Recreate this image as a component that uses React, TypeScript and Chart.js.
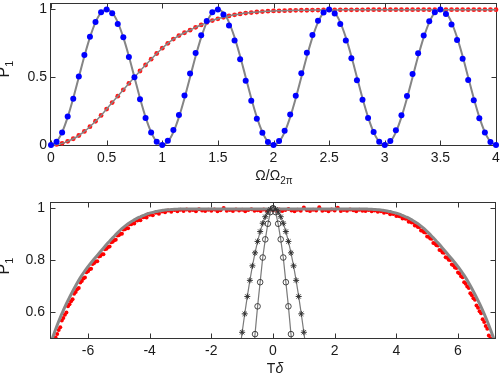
import React, { useEffect, useRef } from 'react';
import { Chart, registerables } from 'chart.js';

Chart.register(...registerables);

// ---------- top panel data ----------
const topX = [
  0, 0.05, 0.1, 0.15, 0.2, 0.25, 0.3, 0.35, 0.4, 0.45,
  0.5, 0.55, 0.6, 0.65, 0.7, 0.75, 0.8, 0.85, 0.9, 0.95,
  1, 1.05, 1.1, 1.15, 1.2, 1.25, 1.3, 1.35, 1.4, 1.45,
  1.5, 1.55, 1.6, 1.65, 1.7, 1.75, 1.8, 1.85, 1.9, 1.95,
  2, 2.05, 2.1, 2.15, 2.2, 2.25, 2.3, 2.35, 2.4, 2.45,
  2.5, 2.55, 2.6, 2.65, 2.7, 2.75, 2.8, 2.85, 2.9, 2.95,
  3, 3.05, 3.1, 3.15, 3.2, 3.25, 3.3, 3.35, 3.4, 3.45,
  3.5, 3.55, 3.6, 3.65, 3.7, 3.75, 3.8, 3.85, 3.9, 3.95,
  4,
];

const oscTheory = [
  0, 0.024, 0.095, 0.206, 0.345, 0.5, 0.655, 0.794, 0.905, 0.976,
  1, 0.976, 0.905, 0.794, 0.655, 0.5, 0.345, 0.206, 0.095, 0.024,
  0, 0.024, 0.095, 0.206, 0.345, 0.5, 0.655, 0.794, 0.905, 0.976,
  1, 0.976, 0.905, 0.794, 0.655, 0.5, 0.345, 0.206, 0.095, 0.024,
  0, 0.024, 0.095, 0.206, 0.345, 0.5, 0.655, 0.794, 0.905, 0.976,
  1, 0.976, 0.905, 0.794, 0.655, 0.5, 0.345, 0.206, 0.095, 0.024,
  0, 0.024, 0.095, 0.206, 0.345, 0.5, 0.655, 0.794, 0.905, 0.976,
  1, 0.976, 0.905, 0.794, 0.655, 0.5, 0.345, 0.206, 0.095, 0.024,
  0,
];

const blueDots = [
  0, 0.024, 0.092, 0.21, 0.342, 0.506, 0.663, 0.798, 0.908, 0.98,
  1, 0.971, 0.892, 0.795, 0.65, 0.499, 0.337, 0.2, 0.092, 0.024,
  0, 0.032, 0.11, 0.222, 0.366, 0.527, 0.679, 0.81, 0.914, 0.979,
  1, 0.962, 0.882, 0.77, 0.632, 0.474, 0.327, 0.194, 0.09, 0.022,
  0, 0.029, 0.106, 0.225, 0.364, 0.53, 0.68, 0.812, 0.916, 0.978,
  1, 0.97, 0.892, 0.771, 0.639, 0.477, 0.333, 0.2, 0.096, 0.024,
  0, 0.03, 0.108, 0.22, 0.362, 0.524, 0.676, 0.808, 0.912, 0.98,
  1, 0.966, 0.888, 0.775, 0.636, 0.48, 0.33, 0.197, 0.093, 0.023,
  0,
];

const redTop = [
  0, 0.004, 0.012, 0.027, 0.046, 0.07, 0.1, 0.135, 0.175, 0.218,
  0.265, 0.313, 0.36, 0.407, 0.454, 0.5, 0.546, 0.59, 0.633, 0.675,
  0.714, 0.75, 0.781, 0.807, 0.828, 0.847, 0.868, 0.886, 0.903, 0.918,
  0.931, 0.942, 0.952, 0.96, 0.967, 0.973, 0.977, 0.981, 0.984, 0.987,
  0.989, 0.99, 0.991, 0.992, 0.993, 0.994, 0.994, 0.995, 0.995, 0.996,
  0.996, 0.996, 0.997, 0.997, 0.997, 0.997, 0.997, 0.998, 0.998, 0.998,
  0.998, 0.998, 0.998, 0.998, 0.998, 0.998, 0.998, 0.998, 0.998, 0.998,
  0.998, 0.998, 0.998, 0.998, 0.998, 0.998, 0.998, 0.998, 0.998, 0.998,
  0.998,
];

const topXTicks = [0, 0.5, 1, 1.5, 2, 2.5, 3, 3.5, 4];
const topYTicks = [0, 0.5, 1];

// ---------- bottom panel data ----------
const botX = [
  -7.2, -7.1, -7, -6.9, -6.8, -6.7, -6.6, -6.5, -6.4, -6.3,
  -6.2, -6.1, -6, -5.9, -5.8, -5.7, -5.6, -5.5, -5.4, -5.3,
  -5.2, -5.1, -5, -4.9, -4.8, -4.7, -4.6, -4.5, -4.4, -4.3,
  -4.2, -4.1, -4, -3.9, -3.8, -3.7, -3.6, -3.5, -3.4, -3.3,
  -3.2, -3.1, -3, -2.9, -2.8, -2.7, -2.6, -2.5, -2.4, -2.3,
  -2.2, -2.1, -2, -1.9, -1.8, -1.7, -1.6, -1.5, -1.4, -1.3,
  -1.2, -1.1, -1, -0.9, -0.8, -0.7, -0.6, -0.5, -0.4, -0.3,
  -0.2, -0.1, 0, 0.1, 0.2, 0.3, 0.4, 0.5, 0.6, 0.7,
  0.8, 0.9, 1, 1.1, 1.2, 1.3, 1.4, 1.5, 1.6, 1.7,
  1.8, 1.9, 2, 2.1, 2.2, 2.3, 2.4, 2.5, 2.6, 2.7,
  2.8, 2.9, 3, 3.1, 3.2, 3.3, 3.4, 3.5, 3.6, 3.7,
  3.8, 3.9, 4, 4.1, 4.2, 4.3, 4.4, 4.5, 4.6, 4.7,
  4.8, 4.9, 5, 5.1, 5.2, 5.3, 5.4, 5.5, 5.6, 5.7,
  5.8, 5.9, 6, 6.1, 6.2, 6.3, 6.4, 6.5, 6.6, 6.7,
  6.8, 6.9, 7, 7.1, 7.2,
];

const wideTheory = [
  0.484, 0.517, 0.549, 0.579, 0.606, 0.632, 0.656, 0.679, 0.701, 0.722,
  0.741, 0.759, 0.775, 0.79, 0.804, 0.818, 0.832, 0.846, 0.86, 0.873,
  0.886, 0.898, 0.91, 0.921, 0.931, 0.94, 0.948, 0.955, 0.962, 0.967,
  0.972, 0.977, 0.981, 0.984, 0.987, 0.989, 0.991, 0.993, 0.994, 0.995,
  0.996, 0.996, 0.997, 0.997, 0.997, 0.997, 0.997, 0.997, 0.997, 0.997,
  0.997, 0.997, 0.997, 0.997, 0.997, 0.997, 0.997, 0.997, 0.997, 0.997,
  0.997, 0.997, 0.997, 0.997, 0.997, 0.997, 0.997, 0.997, 0.997, 0.997,
  0.997, 0.997, 0.997, 0.997, 0.997, 0.997, 0.997, 0.997, 0.997, 0.997,
  0.997, 0.997, 0.997, 0.997, 0.997, 0.997, 0.997, 0.997, 0.997, 0.997,
  0.997, 0.997, 0.997, 0.997, 0.997, 0.997, 0.997, 0.997, 0.997, 0.997,
  0.997, 0.997, 0.997, 0.996, 0.996, 0.995, 0.994, 0.993, 0.991, 0.989,
  0.987, 0.984, 0.981, 0.977, 0.972, 0.967, 0.962, 0.955, 0.948, 0.94,
  0.931, 0.921, 0.91, 0.898, 0.886, 0.873, 0.86, 0.846, 0.832, 0.818,
  0.804, 0.79, 0.775, 0.759, 0.741, 0.722, 0.701, 0.679, 0.656, 0.632,
  0.606, 0.579, 0.549, 0.517, 0.484,
];

const wideMeasured = [
  0.448, 0.476, 0.515, 0.541, 0.577, 0.598, 0.63, 0.649, 0.677, 0.693,
  0.72, 0.733, 0.757, 0.767, 0.789, 0.796, 0.816, 0.823, 0.844, 0.852,
  0.871, 0.878, 0.896, 0.902, 0.919, 0.923, 0.938, 0.941, 0.953, 0.954,
  0.965, 0.964, 0.975, 0.973, 0.982, 0.979, 0.987, 0.984, 0.991, 0.986,
  0.993, 0.988, 0.994, 0.989, 0.995, 0.99, 0.993, 0.988, 0.996, 0.991,
  0.989, 0.994, 0.99, 0.995, 0.988, 0.992, 1.001, 0.99, 0.993, 0.989,
  0.995, 0.991, 0.994, 0.988, 0.993, 0.996, 0.99, 0.992, 0.989, 0.995,
  0.991, 0.994, 0.992, 0.99, 0.995, 0.989, 0.993, 0.997, 0.991, 0.988,
  0.994, 0.99, 1.003, 0.992, 0.989, 0.994, 0.991, 1.004, 0.99, 0.993,
  0.988, 0.995, 0.991, 1.002, 0.989, 0.993, 0.99, 0.995, 0.992, 0.988,
  0.994, 0.99, 0.989, 0.993, 0.988, 0.991, 0.986, 0.988, 0.982, 0.984,
  0.977, 0.978, 0.97, 0.969, 0.96, 0.959, 0.948, 0.945, 0.933, 0.928,
  0.914, 0.907, 0.891, 0.883, 0.866, 0.857, 0.839, 0.829, 0.811, 0.801,
  0.783, 0.772, 0.752, 0.738, 0.715, 0.698, 0.672, 0.653, 0.625, 0.603,
  0.572, 0.546, 0.51, 0.481, 0.444,
];

// extra measured points between the 0.1 grid on the two flanks
const flankX = [
  -7.15, -7.05, -6.95, -6.85, -6.75, -6.65, -6.55, -6.45, -6.35, -6.25,
  -6.15, -6.05, -5.95, -5.85, -5.75, -5.65, -5.55, -5.45, -5.35, -5.25,
  -5.15, -5.05, -4.95, -4.85, -4.75, -4.65, -4.55, -4.45, -4.35, -4.25,
  -4.15, -4.05,
  4.05, 4.15, 4.25, 4.35, 4.45, 4.55, 4.65, 4.75, 4.85, 4.95,
  5.05, 5.15, 5.25, 5.35, 5.45, 5.55, 5.65, 5.75, 5.85, 5.95,
  6.05, 6.15, 6.25, 6.35, 6.45, 6.55, 6.65, 6.75, 6.85, 6.95,
  7.05, 7.15,
];
const flankMeasured = [
  0.469, 0.502, 0.531, 0.567, 0.59, 0.622, 0.642, 0.67, 0.688, 0.714,
  0.729, 0.753, 0.765, 0.785, 0.795, 0.814, 0.823, 0.842, 0.851, 0.869,
  0.877, 0.895, 0.902, 0.918, 0.924, 0.938, 0.942, 0.954, 0.956, 0.967,
  0.967, 0.977,
  0.972, 0.971, 0.962, 0.96, 0.949, 0.946, 0.933, 0.928, 0.913, 0.906,
  0.89, 0.882, 0.864, 0.856, 0.837, 0.828, 0.809, 0.8, 0.78, 0.77,
  0.748, 0.734, 0.709, 0.693, 0.665, 0.647, 0.617, 0.595, 0.562, 0.536,
  0.499, 0.47,
];

const circleX = [-0.667, -0.583, -0.5, -0.417, -0.333, -0.25, -0.167, -0.083, 0, 0.083, 0.167, 0.25, 0.333, 0.417, 0.5, 0.583, 0.667];
const circleY = [0.4, 0.515, 0.622, 0.715, 0.81, 0.88, 0.94, 0.985, 1, 0.985, 0.94, 0.88, 0.81, 0.715, 0.622, 0.515, 0.4];

const starX = [
  -1.083, -1, -0.917, -0.833, -0.75, -0.667, -0.583, -0.5, -0.417, -0.333, -0.25, -0.167, -0.083,
  0, 0.083, 0.167, 0.25, 0.333, 0.417, 0.5, 0.583, 0.667, 0.75, 0.833, 0.917, 1, 1.083,
];
const starY = [
  0.448, 0.522, 0.593, 0.66, 0.722, 0.778, 0.828, 0.872, 0.91, 0.942, 0.967, 0.985, 0.996,
  1, 0.996, 0.985, 0.967, 0.942, 0.91, 0.872, 0.828, 0.778, 0.722, 0.66, 0.593, 0.522, 0.448,
];

const botXTicks = [-6, -4, -2, 0, 2, 4, 6];
const botYTicks = [0.6, 0.8, 1];

// ---------- styling ----------
const FONT = "'Liberation Sans', Arial, Helvetica, sans-serif";
const FRAME = '#333333';
const TEXT = '#1a1a1a';

const pts = (xs: number[], ys: number[]) =>
  xs.slice(0, Math.min(xs.length, ys.length)).map((x, i) => ({ x, y: ys[i] }));

const frameTicks = {
  id: 'frameTicks',
  beforeDatasetsDraw(chart: any) {
    const { ctx, chartArea: a, scales } = chart;
    const L = Math.round(a.left) - 0.5;
    const R = Math.round(a.right) + 0.5;
    const T = Math.round(a.top) - 0.5;
    const B = Math.round(a.bottom) + 0.5;
    const len = 5;
    ctx.save();
    ctx.strokeStyle = FRAME;
    ctx.lineWidth = 1;
    ctx.strokeRect(L, T, R - L, B - T);
    ctx.beginPath();
    scales.x.ticks.forEach((t: any) => {
      const px = Math.round(scales.x.getPixelForValue(t.value)) + 0.5;
      ctx.moveTo(px, B);
      ctx.lineTo(px, B - len);
      ctx.moveTo(px, T);
      ctx.lineTo(px, T + len);
    });
    scales.y.ticks.forEach((t: any) => {
      const py = Math.round(scales.y.getPixelForValue(t.value)) + 0.5;
      ctx.moveTo(L, py);
      ctx.lineTo(L + len, py);
      ctx.moveTo(R, py);
      ctx.lineTo(R - len, py);
    });
    ctx.stroke();
    ctx.restore();
  },
};

function axis(min: number, max: number, ticks: number[], isX: boolean, size: number, pad: number) {
  return {
    type: 'linear' as const,
    min,
    max,
    afterBuildTicks: (s: any) => {
      s.ticks = ticks.map((v) => ({ value: v }));
    },
    afterFit: (s: any) => {
      if (isX) s.height = size;
      else s.width = size;
      s.paddingLeft = 0;
      s.paddingRight = 0;
      s.paddingTop = 0;
      s.paddingBottom = 0;
    },
    grid: { display: false, drawTicks: false },
    border: { display: false },
    ticks: {
      autoSkip: false,
      maxRotation: 0,
      padding: pad,
      color: TEXT,
      font: { family: FONT, size: 14 },
      callback: (v: any) => String(v),
    },
  };
}

export default function App() {
  const topRef = useRef<HTMLCanvasElement>(null);
  const botRef = useRef<HTMLCanvasElement>(null);

  useEffect(() => {
    const top = new Chart(topRef.current as HTMLCanvasElement, {
      type: 'scatter',
      data: {
        datasets: [
          {
            data: pts(topX, blueDots),
            showLine: false,
            pointRadius: 3,
            pointBackgroundColor: '#0000ff',
            pointBorderWidth: 0,
            order: 0,
            clip: false,
          } as any,
          {
            data: pts(topX, oscTheory),
            showLine: true,
            borderColor: '#858585',
            borderWidth: 2,
            pointRadius: 0,
            cubicInterpolationMode: 'monotone',
            order: 1,
            clip: false,
          },
          {
            data: pts(topX, redTop),
            showLine: true,
            borderColor: '#858585',
            borderWidth: 1.5,
            pointRadius: 0,
            cubicInterpolationMode: 'monotone',
            order: 2,
            clip: false,
          },
          {
            data: pts(topX, redTop),
            showLine: false,
            pointRadius: 2.4,
            pointBackgroundColor: '#ff1a1a',
            pointBorderWidth: 0,
            order: 3,
            clip: false,
          },
        ],
      },
      options: {
        responsive: false,
        animation: false,
        events: [],
        layout: { padding: { top: 1, right: 3, left: 0, bottom: 0 } },
        plugins: { legend: { display: false }, tooltip: { enabled: false } },
        scales: {
          x: axis(0, 4, topXTicks, true, 45, 5),
          y: axis(0, 1.04, topYTicks, false, 51, 4),
        },
      },
      plugins: [frameTicks],
    } as any);

    const bot = new Chart(botRef.current as HTMLCanvasElement, {
      type: 'scatter',
      data: {
        datasets: [
          {
            data: pts(circleX, circleY),
            showLine: true,
            borderColor: '#7a7a7a',
            borderWidth: 1.2,
            pointStyle: 'circle',
            pointRadius: 2.8,
            pointBackgroundColor: 'rgba(0,0,0,0)',
            pointBorderColor: '#333',
            pointBorderWidth: 0.9,
            order: 0,
          },
          {
            data: pts(starX, starY),
            showLine: true,
            borderColor: '#7a7a7a',
            borderWidth: 1.2,
            pointStyle: 'star',
            pointRadius: 3,
            pointBorderColor: '#333',
            pointBorderWidth: 1,
            order: 1,
          },
          {
            data: pts(botX, wideTheory),
            showLine: true,
            borderColor: '#888888',
            borderWidth: 3,
            pointRadius: 0,
            cubicInterpolationMode: 'monotone',
            order: 2,
          },
          {
            data: pts(botX, wideMeasured),
            showLine: false,
            pointRadius: 2,
            pointBackgroundColor: '#ff0000',
            pointBorderWidth: 0,
            order: 3,
          },
          {
            data: pts(flankX, flankMeasured),
            showLine: false,
            pointRadius: 2,
            pointBackgroundColor: '#ff0000',
            pointBorderWidth: 0,
            order: 4,
          },
        ],
      },
      options: {
        responsive: false,
        animation: false,
        events: [],
        layout: { padding: { top: 13, right: 3, left: 0, bottom: 0 } },
        plugins: { legend: { display: false }, tooltip: { enabled: false } },
        scales: {
          x: axis(-7.2, 7.2, botXTicks, true, 37, 5),
          y: axis(0.5, 1.02, botYTicks, false, 51, 6),
        },
      },
      plugins: [frameTicks],
    } as any);

    return () => {
      top.destroy();
      bot.destroy();
    };
  }, []);

  const label: React.CSSProperties = {
    position: 'absolute',
    whiteSpace: 'nowrap',
    fontFamily: FONT,
    color: TEXT,
    fontSize: 14,
    lineHeight: '16px',
  };
  const yLabel: React.CSSProperties = {
    ...label,
    fontSize: 16,
    lineHeight: '16px',
    transform: 'translate(-50%, -50%) rotate(-90deg)',
  };

  return (
    <div
      style={{
        position: 'fixed',
        left: 0,
        top: 0,
        width: 500,
        height: 375,
        background: '#ffffff',
        overflow: 'hidden',
      }}
    >
      <canvas ref={topRef} width={500} height={190} style={{ position: 'absolute', left: 0, top: 0, width: 500, height: 190 }} />
      <canvas ref={botRef} width={500} height={185} style={{ position: 'absolute', left: 0, top: 190, width: 500, height: 185 }} />

      <div style={{ ...label, left: 274, top: 167, transform: 'translateX(-50%)' }}>
        Ω/Ω<span style={{ fontSize: 10, position: 'relative', top: 4 }}>2π</span>
      </div>
      <div style={{ ...label, left: 275, top: 360, transform: 'translateX(-50%)' }}>
        T<span style={{ fontStyle: 'italic' }}>δ</span>
      </div>

      <div style={{ ...yLabel, left: 4, top: 69 }}>
        P<span style={{ fontSize: 11, position: 'relative', top: 4 }}>1</span>
      </div>
      <div style={{ ...yLabel, left: 4, top: 266 }}>
        P<span style={{ fontSize: 11, position: 'relative', top: 4 }}>1</span>
      </div>
    </div>
  );
}
